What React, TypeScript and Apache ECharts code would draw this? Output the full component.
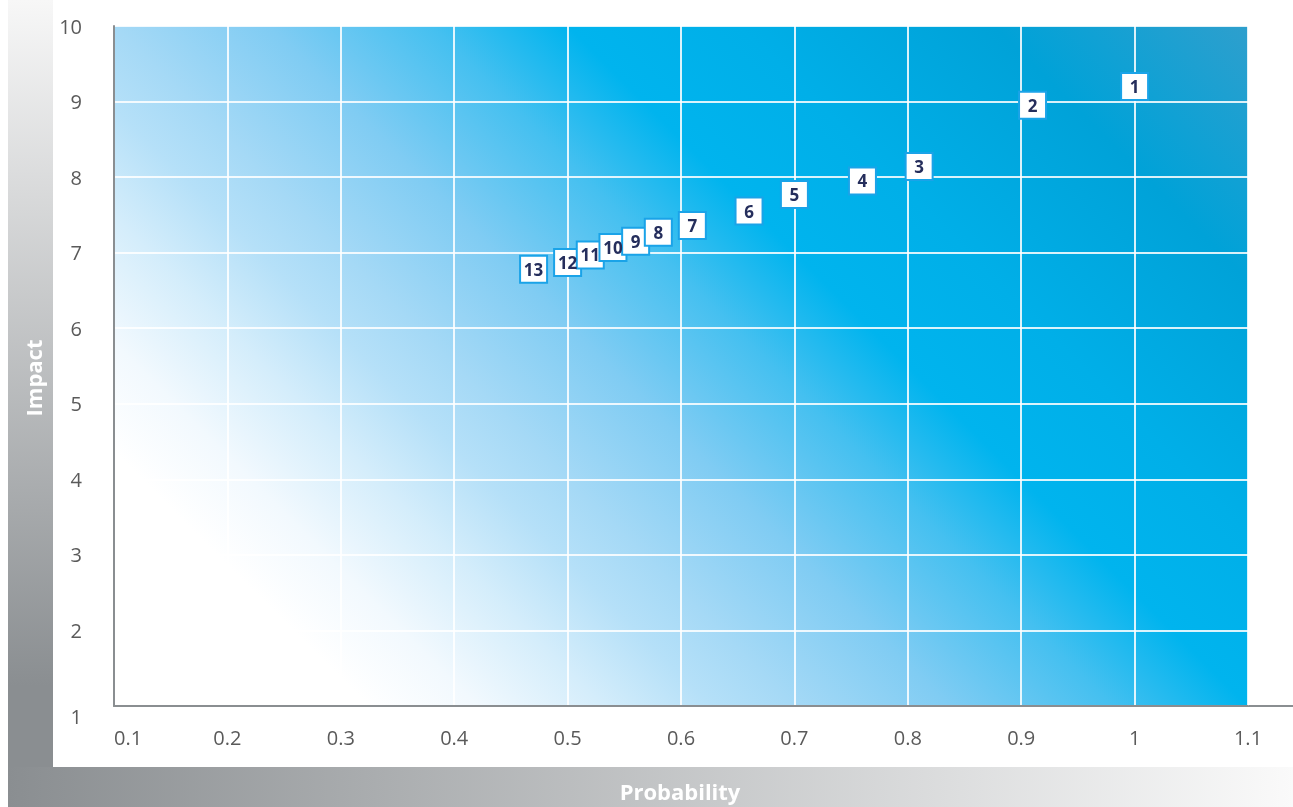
import React, { useEffect, useRef } from "react";
import * as echarts from "echarts";

const riskIds = ["1", "2", "3", "4", "5", "6", "7", "8", "9", "10", "11", "12", "13"];
const probability = [1.0, 0.91, 0.81, 0.76, 0.7, 0.66, 0.61, 0.58, 0.56, 0.54, 0.52, 0.5, 0.47];
const impact = [9.2, 8.95, 8.14, 7.95, 7.77, 7.55, 7.36, 7.27, 7.15, 7.07, 6.97, 6.87, 6.78];

const xMin = 0.1;
const xMax = 1.1;
const xStep = 0.1;
const yMin = 1;
const yMax = 10;
const yStep = 1;

const xTitle = "Probability";
const yTitle = "Impact";

const FONT = "'Open Sans', 'Noto Sans', sans-serif";

export default function App() {
  const ref = useRef<HTMLDivElement>(null);

  useEffect(() => {
    if (!ref.current) return;
    const chart = echarts.init(ref.current, undefined, { renderer: "svg" });

    const L = 114, T = 26, W = 1134, H = 680;

    const data = riskIds
      .map((id, i) => ({ name: id, value: [probability[i], impact[i]] }))
      .reverse();

    const bg = new echarts.graphic.LinearGradient(
      L, T + H, L + (W + H) / 2, T + H - (W + H) / 2,
      [
        { offset: 0, color: "#ffffff" },
        { offset: 0.14, color: "#ffffff" },
        { offset: 0.2, color: "#f2f9fe" },
        { offset: 0.27, color: "#d4edfb" },
        { offset: 0.33, color: "#b5e0f8" },
        { offset: 0.375, color: "#a5d9f6" },
        { offset: 0.46, color: "#80ccf3" },
        { offset: 0.55, color: "#45c0f0" },
        { offset: 0.625, color: "#00b4ee" },
        { offset: 0.72, color: "#00afe8" },
        { offset: 0.86, color: "#00a2d8" },
        { offset: 1, color: "#2e9fcd" },
      ],
      true as any
    );

    chart.setOption({
      animation: false,
      grid: {
        left: L,
        top: T,
        width: W,
        height: H,
        show: true,
        backgroundColor: bg,
        borderWidth: 0,
      },
      xAxis: {
        type: "value",
        min: xMin,
        max: xMax,
        interval: xStep,
        axisLine: { show: true, lineStyle: { color: "#8a8e91", width: 2 } },
        axisTick: { show: false },
        splitLine: { show: true, lineStyle: { color: "rgba(255,255,255,0.85)", width: 2 } },
        axisLabel: {
          color: "#5a5a5a",
          fontSize: 20,
          fontFamily: FONT,
          margin: 21,
          alignMinLabel: "left",
        },
      },
      yAxis: {
        type: "value",
        min: yMin,
        max: yMax,
        interval: yStep,
        axisLine: { show: true, lineStyle: { color: "#8a8e91", width: 2 } },
        axisTick: { show: false },
        splitLine: { show: true, lineStyle: { color: "rgba(255,255,255,0.85)", width: 2 } },
        axisLabel: {
          color: "#5a5a5a",
          fontSize: 20,
          fontFamily: FONT,
          margin: 32,
          verticalAlignMinLabel: "top",
        },
      },
      graphic: [
        {
          type: "rect",
          shape: { x: 8, y: 0, width: 45, height: 807 },
          style: {
            fill: new echarts.graphic.LinearGradient(0, 0, 0, 1, [
              { offset: 0, color: "#f7f7f7" },
              { offset: 0.85, color: "#8a8e91" },
              { offset: 1, color: "#8a8e91" },
            ]),
          },
          silent: true,
        },
        {
          type: "rect",
          shape: { x: 8, y: 767, width: 1285, height: 40 },
          style: {
            fill: new echarts.graphic.LinearGradient(0, 0, 1, 0, [
              { offset: 0, color: "#8a8e91" },
              { offset: 1, color: "#fafafa" },
            ]),
          },
          silent: true,
        },
        {
          type: "line",
          shape: { x1: L + W, y1: T + H, x2: 1293, y2: T + H },
          style: { stroke: "#8a8e91", lineWidth: 2 },
          silent: true,
        },
        {
          type: "text",
          x: 33,
          y: 378,
          rotation: Math.PI / 2,
          style: {
            text: yTitle,
            fill: "#ffffff",
            font: `bold 22px ${FONT}`,
            align: "center",
            verticalAlign: "middle",
          },
          silent: true,
        },
        {
          type: "text",
          x: 680,
          y: 791,
          style: {
            text: xTitle,
            fill: "#ffffff",
            font: `bold 22px ${FONT}`,
            align: "center",
            verticalAlign: "middle",
          },
          silent: true,
        },
      ],
      series: [
        {
          type: "scatter",
          symbol: "rect",
          symbolSize: 27,
          data,
          itemStyle: {
            color: "#ffffff",
            borderColor: "#1aa3e8",
            borderWidth: 2,
            opacity: 1,
          },
          label: {
            show: true,
            position: "inside",
            formatter: (p: any) => p.name,
            color: "#252e5c",
            fontSize: 17,
            fontWeight: "bold",
            fontFamily: FONT,
          },
          emphasis: { disabled: true },
        },
      ],
    });

    return () => chart.dispose();
  }, []);

  return (
    <div
      ref={ref}
      style={{ position: "fixed", left: 0, top: 0, width: 1293, height: 807 }}
    />
  );
}
